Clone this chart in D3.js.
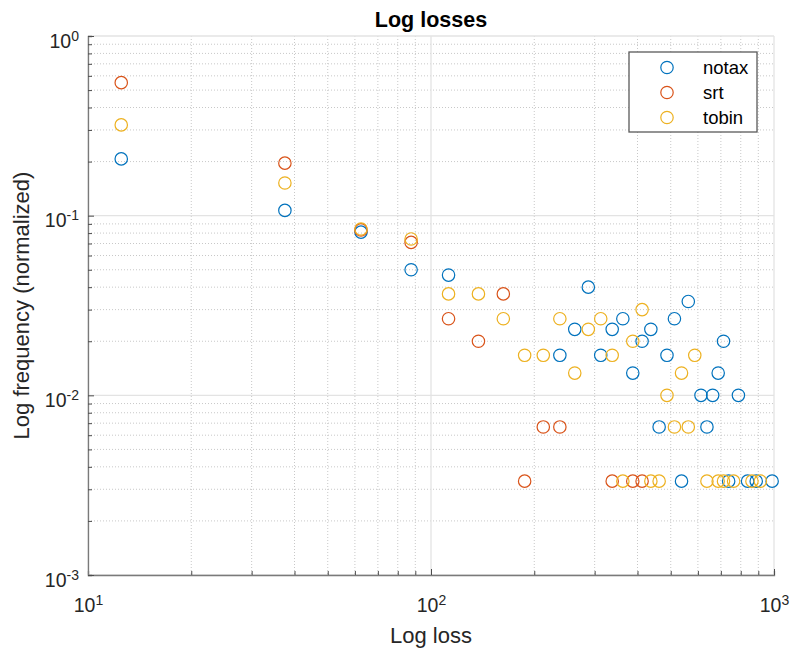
<!DOCTYPE html>
<html>
<head>
<meta charset="utf-8">
<script src="https://cdn.jsdelivr.net/npm/d3@7"></script>
<style>
  body { margin: 0; background: #fff; }
  svg { display: block; font-family: "Liberation Sans", Arial, Helvetica, sans-serif; }
</style>
</head>
<body>
<svg id="chart"></svg>
<script>
// bin centres (loss) and normalized frequencies
const notaxLoss = [12.5, 37.5, 62.5, 87.5, 112.5, 237.5, 262.5, 287.5, 312.5, 337.5, 362.5, 387.5, 412.5, 437.5, 462.5, 487.5, 512.5, 537.5, 562.5, 612.5, 637.5, 662.5, 687.5, 712.5, 737.5, 787.5, 837.5, 887.5, 987.5];
const notaxFreq = [0.207, 0.107, 0.081, 0.05, 0.0467, 0.0167, 0.0233, 0.04, 0.0167, 0.0233, 0.0267, 0.0133, 0.02, 0.0233, 0.00667, 0.0167, 0.0267, 0.00333, 0.0333, 0.01, 0.00667, 0.01, 0.0133, 0.02, 0.00333, 0.01, 0.00333, 0.00333, 0.00333];

const srtLoss = [12.5, 37.5, 62.5, 87.5, 112.5, 137.5, 162.5, 187.5, 212.5, 237.5, 337.5, 387.5, 412.5];
const srtFreq = [0.55, 0.196, 0.0833, 0.071, 0.0267, 0.02, 0.0367, 0.00333, 0.00667, 0.00667, 0.00333, 0.00333, 0.00333];

const tobinLoss = [12.5, 37.5, 62.5, 87.5, 112.5, 137.5, 162.5, 187.5, 212.5, 237.5, 262.5, 287.5, 312.5, 337.5, 362.5, 387.5, 412.5, 437.5, 462.5, 487.5, 512.5, 537.5, 562.5, 587.5, 637.5, 687.5, 712.5, 762.5, 862.5, 912.5];
const tobinFreq = [0.32, 0.152, 0.0843, 0.0742, 0.0367, 0.0367, 0.0267, 0.0167, 0.0167, 0.0267, 0.0133, 0.0233, 0.0267, 0.0167, 0.00333, 0.02, 0.03, 0.00333, 0.00333, 0.01, 0.00667, 0.0133, 0.00667, 0.0167, 0.00333, 0.00333, 0.00333, 0.00333, 0.00333, 0.00333];

const seriesNames = ["notax", "srt", "tobin"];
const seriesColors = ["#0072BD", "#D95319", "#EDB120"];

const xMajor = [10, 100, 1000];
const yMajor = [0.001, 0.01, 0.1, 1];

const width = 792, height = 651;
const margin = { top: 36, right: 18, bottom: 76, left: 88 };

const svg = d3.select("#chart").attr("width", width).attr("height", height);
svg.append("rect").attr("width", width).attr("height", height).attr("fill", "#fff");

const x = d3.scaleLog().domain([10, 1000]).range([margin.left, width - margin.right]);
const y = d3.scaleLog().domain([0.001, 1]).range([height - margin.bottom, margin.top]);

const minorOf = majors => {
    const out = [];
    for (let i = 0; i < majors.length - 1; i++)
        for (let k = 2; k <= 9; k++) out.push(majors[i] * k);
    return out;
};
const xMinor = minorOf(xMajor);
const yMinor = minorOf(yMajor);

const [x0, x1] = x.range();
const [y1, y0] = y.range();

// minor grid (dotted)
const grid = svg.append("g");
grid.selectAll(".gx").data(xMinor).join("line")
    .attr("x1", d => x(d)).attr("x2", d => x(d)).attr("y1", y0).attr("y2", y1)
    .attr("stroke", "#c8c8c8").attr("stroke-width", 1).attr("stroke-dasharray", "1,2");
grid.selectAll(".gy").data(yMinor).join("line")
    .attr("x1", x0).attr("x2", x1).attr("y1", d => y(d)).attr("y2", d => y(d))
    .attr("stroke", "#c8c8c8").attr("stroke-width", 1).attr("stroke-dasharray", "1,2");
// major grid
grid.selectAll(".Gx").data(xMajor).join("line")
    .attr("x1", d => x(d)).attr("x2", d => x(d)).attr("y1", y0).attr("y2", y1)
    .attr("stroke", "#e3e3e3").attr("stroke-width", 1.3);
grid.selectAll(".Gy").data(yMajor).join("line")
    .attr("x1", x0).attr("x2", x1).attr("y1", d => y(d)).attr("y2", d => y(d))
    .attr("stroke", "#e3e3e3").attr("stroke-width", 1.3);

// axes
const powLabel = function (d) {
    const t = d3.select(this);
    const e = Math.round(Math.log10(d));
    t.text(null);
    t.append("tspan").text("10");
    t.append("tspan").attr("dy", "-0.5em").attr("font-size", "14px").text(e);
};

const xAxis = svg.append("g").attr("transform", `translate(0,${y1})`);
xAxis.call(d3.axisBottom(x).tickValues(xMinor).tickSize(-4).tickFormat(""));
xAxis.append("g").call(d3.axisBottom(x).tickValues(xMajor).tickSize(-6).tickPadding(0))
    .call(g => g.select(".domain").remove())
    .call(g => g.selectAll(".tick text").attr("y", 37).attr("dy", null)
        .attr("font-size", "19.5px").attr("fill", "#262626").each(powLabel));

const yAxis = svg.append("g").attr("transform", `translate(${x0},0)`);
yAxis.call(d3.axisLeft(y).tickValues(yMinor).tickSize(-4).tickFormat(""));
yAxis.append("g").call(d3.axisLeft(y).tickValues(yMajor).tickSize(-6))
    .call(g => g.select(".domain").remove())
    .call(g => g.selectAll(".tick text").attr("x", -9).attr("dy", "0.58em")
        .attr("font-size", "19.5px").attr("fill", "#262626").each(powLabel));

svg.selectAll(".domain").attr("stroke", "#7a7a7a").attr("stroke-width", 1.3);
svg.selectAll(".tick line").attr("stroke", "#4d4d4d").attr("stroke-width", 1);

// points (notax, srt, tobin drawn in that order)
const series = [
    { name: seriesNames[0], loss: notaxLoss, freq: notaxFreq },
    { name: seriesNames[1], loss: srtLoss, freq: srtFreq },
    { name: seriesNames[2], loss: tobinLoss, freq: tobinFreq }
];
series.forEach((s, i) => {
    svg.append("g").selectAll("circle")
        .data(s.loss.map((l, j) => [l, s.freq[j]]))
        .join("circle")
        .attr("cx", d => x(d[0])).attr("cy", d => y(d[1]))
        .attr("r", 6.2)
        .attr("fill", "none").attr("stroke", seriesColors[i]).attr("stroke-width", 1.2);
});

// title and labels
svg.append("text").attr("x", (x0 + x1) / 2).attr("y", 27).attr("text-anchor", "middle")
    .attr("font-size", "21.5px").attr("font-weight", "bold").attr("fill", "#000").text("Log losses");
svg.append("text").attr("x", (x0 + x1) / 2).attr("y", 643).attr("text-anchor", "middle")
    .attr("font-size", "22px").attr("fill", "#262626").text("Log loss");
svg.append("text").attr("transform", `translate(28.5,${(y0 + y1) / 2}) rotate(-90)`)
    .attr("text-anchor", "middle").attr("font-size", "22px").attr("fill", "#262626")
    .text("Log frequency (normalized)");

// legend
const lg = svg.append("g").attr("transform", "translate(629,52)");
lg.append("rect").attr("width", 128).attr("height", 80)
    .attr("fill", "#fff").attr("stroke", "#5a5a5a").attr("stroke-width", 1.3);
seriesNames.forEach((n, i) => {
    const row = lg.append("g").attr("transform", `translate(0,${15.5 + i * 25})`);
    row.append("circle").attr("cx", 38).attr("cy", 0).attr("r", 6.2)
        .attr("fill", "none").attr("stroke", seriesColors[i]).attr("stroke-width", 1.2);
    row.append("text").attr("x", 74).attr("y", 0).attr("dy", "0.35em")
        .attr("font-size", "18.5px").attr("fill", "#000").text(n);
});
</script>
</body>
</html>
